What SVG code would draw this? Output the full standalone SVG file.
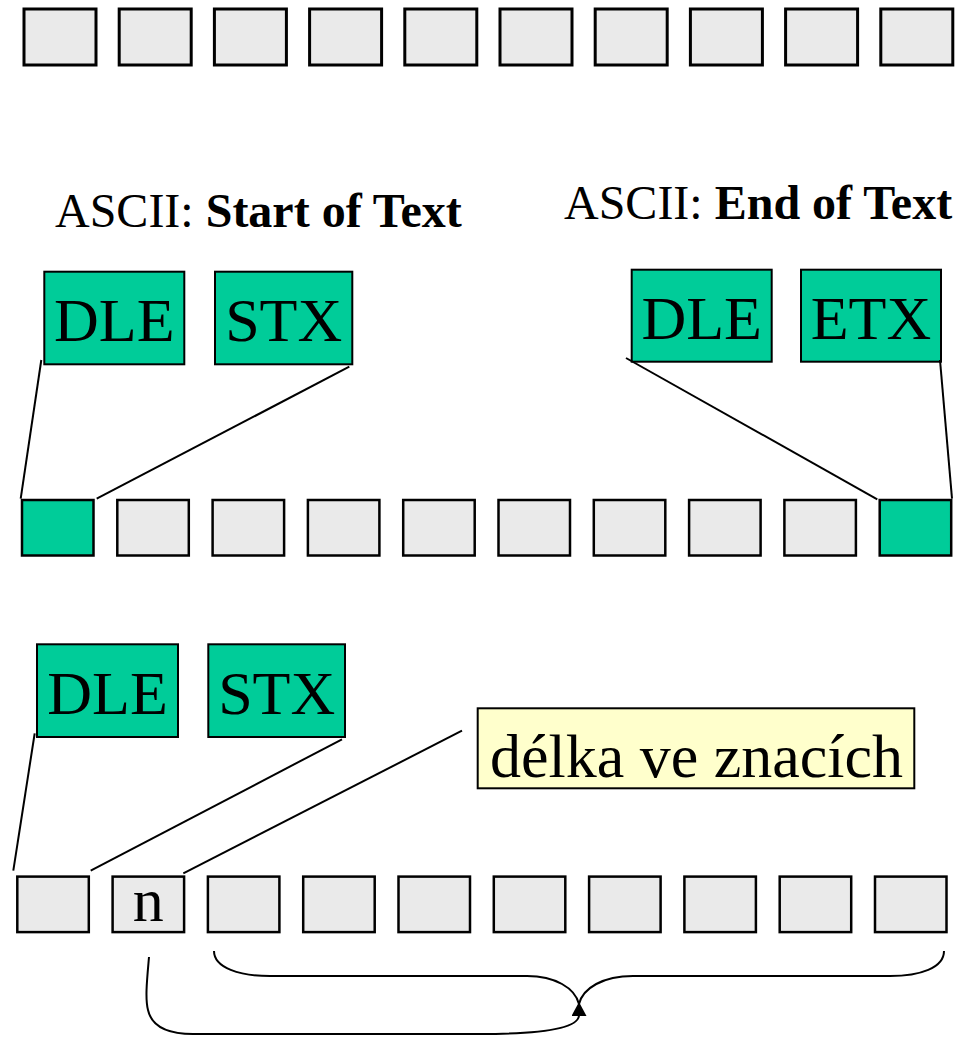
<svg xmlns="http://www.w3.org/2000/svg" width="973" height="1037" viewBox="0 0 973 1037">
<style>
.cell{fill:#EAEAEA;stroke:#000;stroke-width:3}
.cell2{fill:#EAEAEA;stroke:#000;stroke-width:2.5}
.gcell{fill:#00CC99;stroke:#000;stroke-width:2.5}
.lbl{fill:#00CC99;stroke:#000;stroke-width:2}
.note{fill:#FFFFCC;stroke:#000;stroke-width:2}
.t{font-family:"Liberation Serif","Times New Roman",serif;font-size:62px;fill:#000;text-anchor:middle}
.cap{font-family:"Liberation Serif","Times New Roman",serif;font-size:48px;fill:#000}
.ln{stroke:#000;stroke-width:2;fill:none}
</style>
<defs>
<marker id="arr" markerUnits="userSpaceOnUse" markerWidth="16" markerHeight="16" refX="14" refY="7.5" orient="auto" viewBox="0 0 16 16">
<path d="M0,0 L14,7.5 L0,15 z" fill="#000"/>
</marker>
</defs>
<g id="row1">
<rect class="cell" x="24" y="9" width="72" height="56"/>
<rect class="cell" x="119.2" y="9" width="72" height="56"/>
<rect class="cell" x="214.4" y="9" width="72" height="56"/>
<rect class="cell" x="309.6" y="9" width="72" height="56"/>
<rect class="cell" x="404.8" y="9" width="72" height="56"/>
<rect class="cell" x="500" y="9" width="72" height="56"/>
<rect class="cell" x="595.2" y="9" width="72" height="56"/>
<rect class="cell" x="690.4" y="9" width="72" height="56"/>
<rect class="cell" x="785.6" y="9" width="72" height="56"/>
<rect class="cell" x="880.8" y="9" width="72" height="56"/>
</g>
<g id="caption-stx">
<text class="cap" x="55" y="226.5">ASCII: <tspan font-weight="bold">Start of Text</tspan></text>
</g>
<g id="caption-etx">
<text class="cap" x="564" y="219">ASCII: <tspan font-weight="bold">End of Text</tspan></text>
</g>
<g id="dle1">
<rect class="lbl" x="44.3" y="271.7" width="140" height="92.6"/>
<text class="t" x="114.3" y="341.3">DLE</text>
</g>
<g id="stx1">
<rect class="lbl" x="215" y="271.7" width="137.3" height="92.6"/>
<text class="t" x="283.7" y="341.3">STX</text>
</g>
<g id="dle2">
<rect class="lbl" x="631.7" y="269.7" width="140" height="92"/>
<text class="t" x="701.7" y="339.3">DLE</text>
</g>
<g id="etx2">
<rect class="lbl" x="801" y="269.7" width="140" height="92"/>
<text class="t" x="871" y="339.3">ETX</text>
</g>
<g id="row2">
<rect class="gcell" x="22" y="500" width="71.5" height="55.5"/>
<rect class="cell2" x="117.3" y="500" width="71.5" height="55.5"/>
<rect class="cell2" x="212.6" y="500" width="71.5" height="55.5"/>
<rect class="cell2" x="307.9" y="500" width="71.5" height="55.5"/>
<rect class="cell2" x="403.2" y="500" width="71.5" height="55.5"/>
<rect class="cell2" x="498.5" y="500" width="71.5" height="55.5"/>
<rect class="cell2" x="593.8" y="500" width="71.5" height="55.5"/>
<rect class="cell2" x="689.1" y="500" width="71.5" height="55.5"/>
<rect class="cell2" x="784.4" y="500" width="71.5" height="55.5"/>
<rect class="gcell" x="879.7" y="500" width="71.5" height="55.5"/>
</g>
<g id="dle3">
<rect class="lbl" x="37" y="644.3" width="141" height="92.7"/>
<text class="t" x="107.5" y="714">DLE</text>
</g>
<g id="stx3">
<rect class="lbl" x="208.3" y="644.3" width="136.7" height="92.7"/>
<text class="t" x="276.7" y="714">STX</text>
</g>
<g id="length-note">
<rect class="note" x="477.7" y="708.3" width="436.6" height="80"/>
<text class="t" x="696.5" y="777.3">délka ve znacích</text>
</g>
<g id="row3">
<rect class="cell2" x="17.3" y="876.6" width="71.5" height="55.5"/>
<rect class="cell2" x="112.6" y="876.6" width="71.5" height="55.5"/>
<text class="t" x="148.3" y="920.7">n</text>
<rect class="cell2" x="207.9" y="876.6" width="71.5" height="55.5"/>
<rect class="cell2" x="303.2" y="876.6" width="71.5" height="55.5"/>
<rect class="cell2" x="398.5" y="876.6" width="71.5" height="55.5"/>
<rect class="cell2" x="493.8" y="876.6" width="71.5" height="55.5"/>
<rect class="cell2" x="589.1" y="876.6" width="71.5" height="55.5"/>
<rect class="cell2" x="684.4" y="876.6" width="71.5" height="55.5"/>
<rect class="cell2" x="779.7" y="876.6" width="71.5" height="55.5"/>
<rect class="cell2" x="875" y="876.6" width="71.5" height="55.5"/>
</g>
<g id="connectors">
<line class="ln" x1="41.3" y1="360" x2="20.7" y2="498.7"/>
<line class="ln" x1="349.3" y1="366.7" x2="96.7" y2="498.7"/>
<line class="ln" x1="626" y1="358" x2="877.3" y2="499.3"/>
<line class="ln" x1="940" y1="360" x2="952" y2="498.7"/>
<line class="ln" x1="34.7" y1="733.3" x2="13.3" y2="870.7"/>
<line class="ln" x1="342" y1="739.3" x2="90.7" y2="870.7"/>
<line class="ln" x1="462" y1="730.7" x2="183.3" y2="873.3"/>
<path class="ln" d="M214,951 C214,968 240,976 270,976 L527,976 C555,976 575,988 579,1004 C583,988 603,976 633,976 L890,976 C920,976 944,968 944,951"/>
<path class="ln" marker-end="url(#arr)" d="M149,957 C147,980 145,998 148,1010 C152,1028 170,1034 193,1034 L480,1034 C545,1034 579,1028 579,1015 L579,1002"/>
</g>
</svg>
